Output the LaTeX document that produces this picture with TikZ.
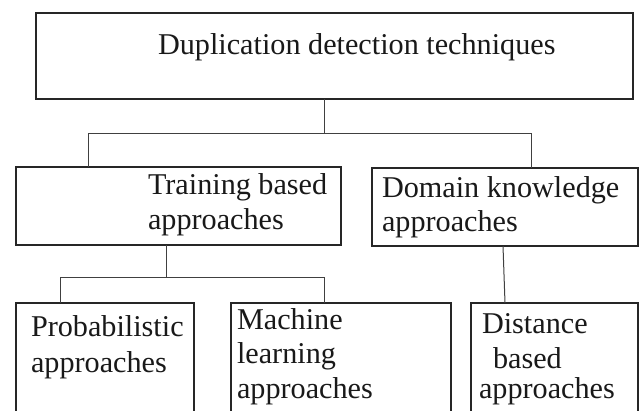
\documentclass[tikz,border=0pt]{standalone}
\usepackage{fontspec}
\setmainfont{Liberation Serif}
\begin{document}
\begin{tikzpicture}[x=1pt,y=-1pt,
  box/.style={draw=black!85, line width=1.3pt, fill=white, rectangle,
    anchor=north west, inner sep=0pt, outer sep=0pt},
  conn/.style={draw=black!75, line width=1pt},
  lbl/.style={anchor=base west, inner sep=0pt, outer sep=0pt,
    font=\fontsize{30.2}{35}\selectfont, text=black!90}]
  \useasboundingbox (0,0) rectangle (640,410);
  \clip (0,0) rectangle (640,410);
  \fill[white] (0,0) rectangle (640,410);

  % boxes
  \node[box, minimum width=597pt, minimum height=86pt] (top)   at (36,13)  {};
  \node[box, minimum width=325pt, minimum height=78pt] (train) at (16,167) {};
  \node[box, minimum width=266pt, minimum height=78pt] (dom)   at (372,168) {};
  \node[box, minimum width=178pt, minimum height=140pt] (prob) at (16,303) {};
  \node[box, minimum width=220pt, minimum height=140pt] (ml)   at (231,303) {};
  \node[box, minimum width=167pt, minimum height=140pt] (dist) at (471,303) {};

  % labels
  \node[lbl] (ttop) at (158,54) {Duplication detection techniques};
  \node[lbl] (ttr1) at (148,194) {Training based};
  \node[lbl] (ttr2) at (148,229) {approaches};
  \node[lbl] (tdo1) at (382,197) {Domain knowledge};
  \node[lbl] (tdo2) at (382,231) {approaches};
  \node[lbl] (tpr1) at (31,336) {Probabilistic};
  \node[lbl] (tpr2) at (31,372) {approaches};
  \node[lbl] (tml1) at (237,329) {Machine};
  \node[lbl] (tml2) at (237,363) {learning};
  \node[lbl] (tml3) at (237,398) {approaches};
  \node[lbl] (tdi1) at (482,333) {Distance};
  \node[lbl] (tdi2) at (493,368) {based};
  \node[lbl] (tdi3) at (479,398) {approaches};

  % bus points of the connectors
  \coordinate (b1)  at (324,133);
  \coordinate (b1l) at (88,133);
  \coordinate (b1r) at (531,133);
  \coordinate (b2)  at (166,277);
  \coordinate (b2l) at (60,277);
  \coordinate (b2r) at (324,277);
  \coordinate (d1)  at (503,0);
  \coordinate (d2)  at (505,0);

  % connectors
  \draw[conn] (top.south -| b1) -- (b1);
  \draw[conn] (train.north -| b1l) -- (b1l) -- (b1r) -- (dom.north -| b1r);
  \draw[conn] (train.south -| b2) -- (b2);
  \draw[conn] (prob.north -| b2l) -- (b2l) -- (b2r) -- (ml.north -| b2r);
  \draw[conn] (dom.south -| d1) -- (dist.north -| d2);
\end{tikzpicture}
\end{document}
